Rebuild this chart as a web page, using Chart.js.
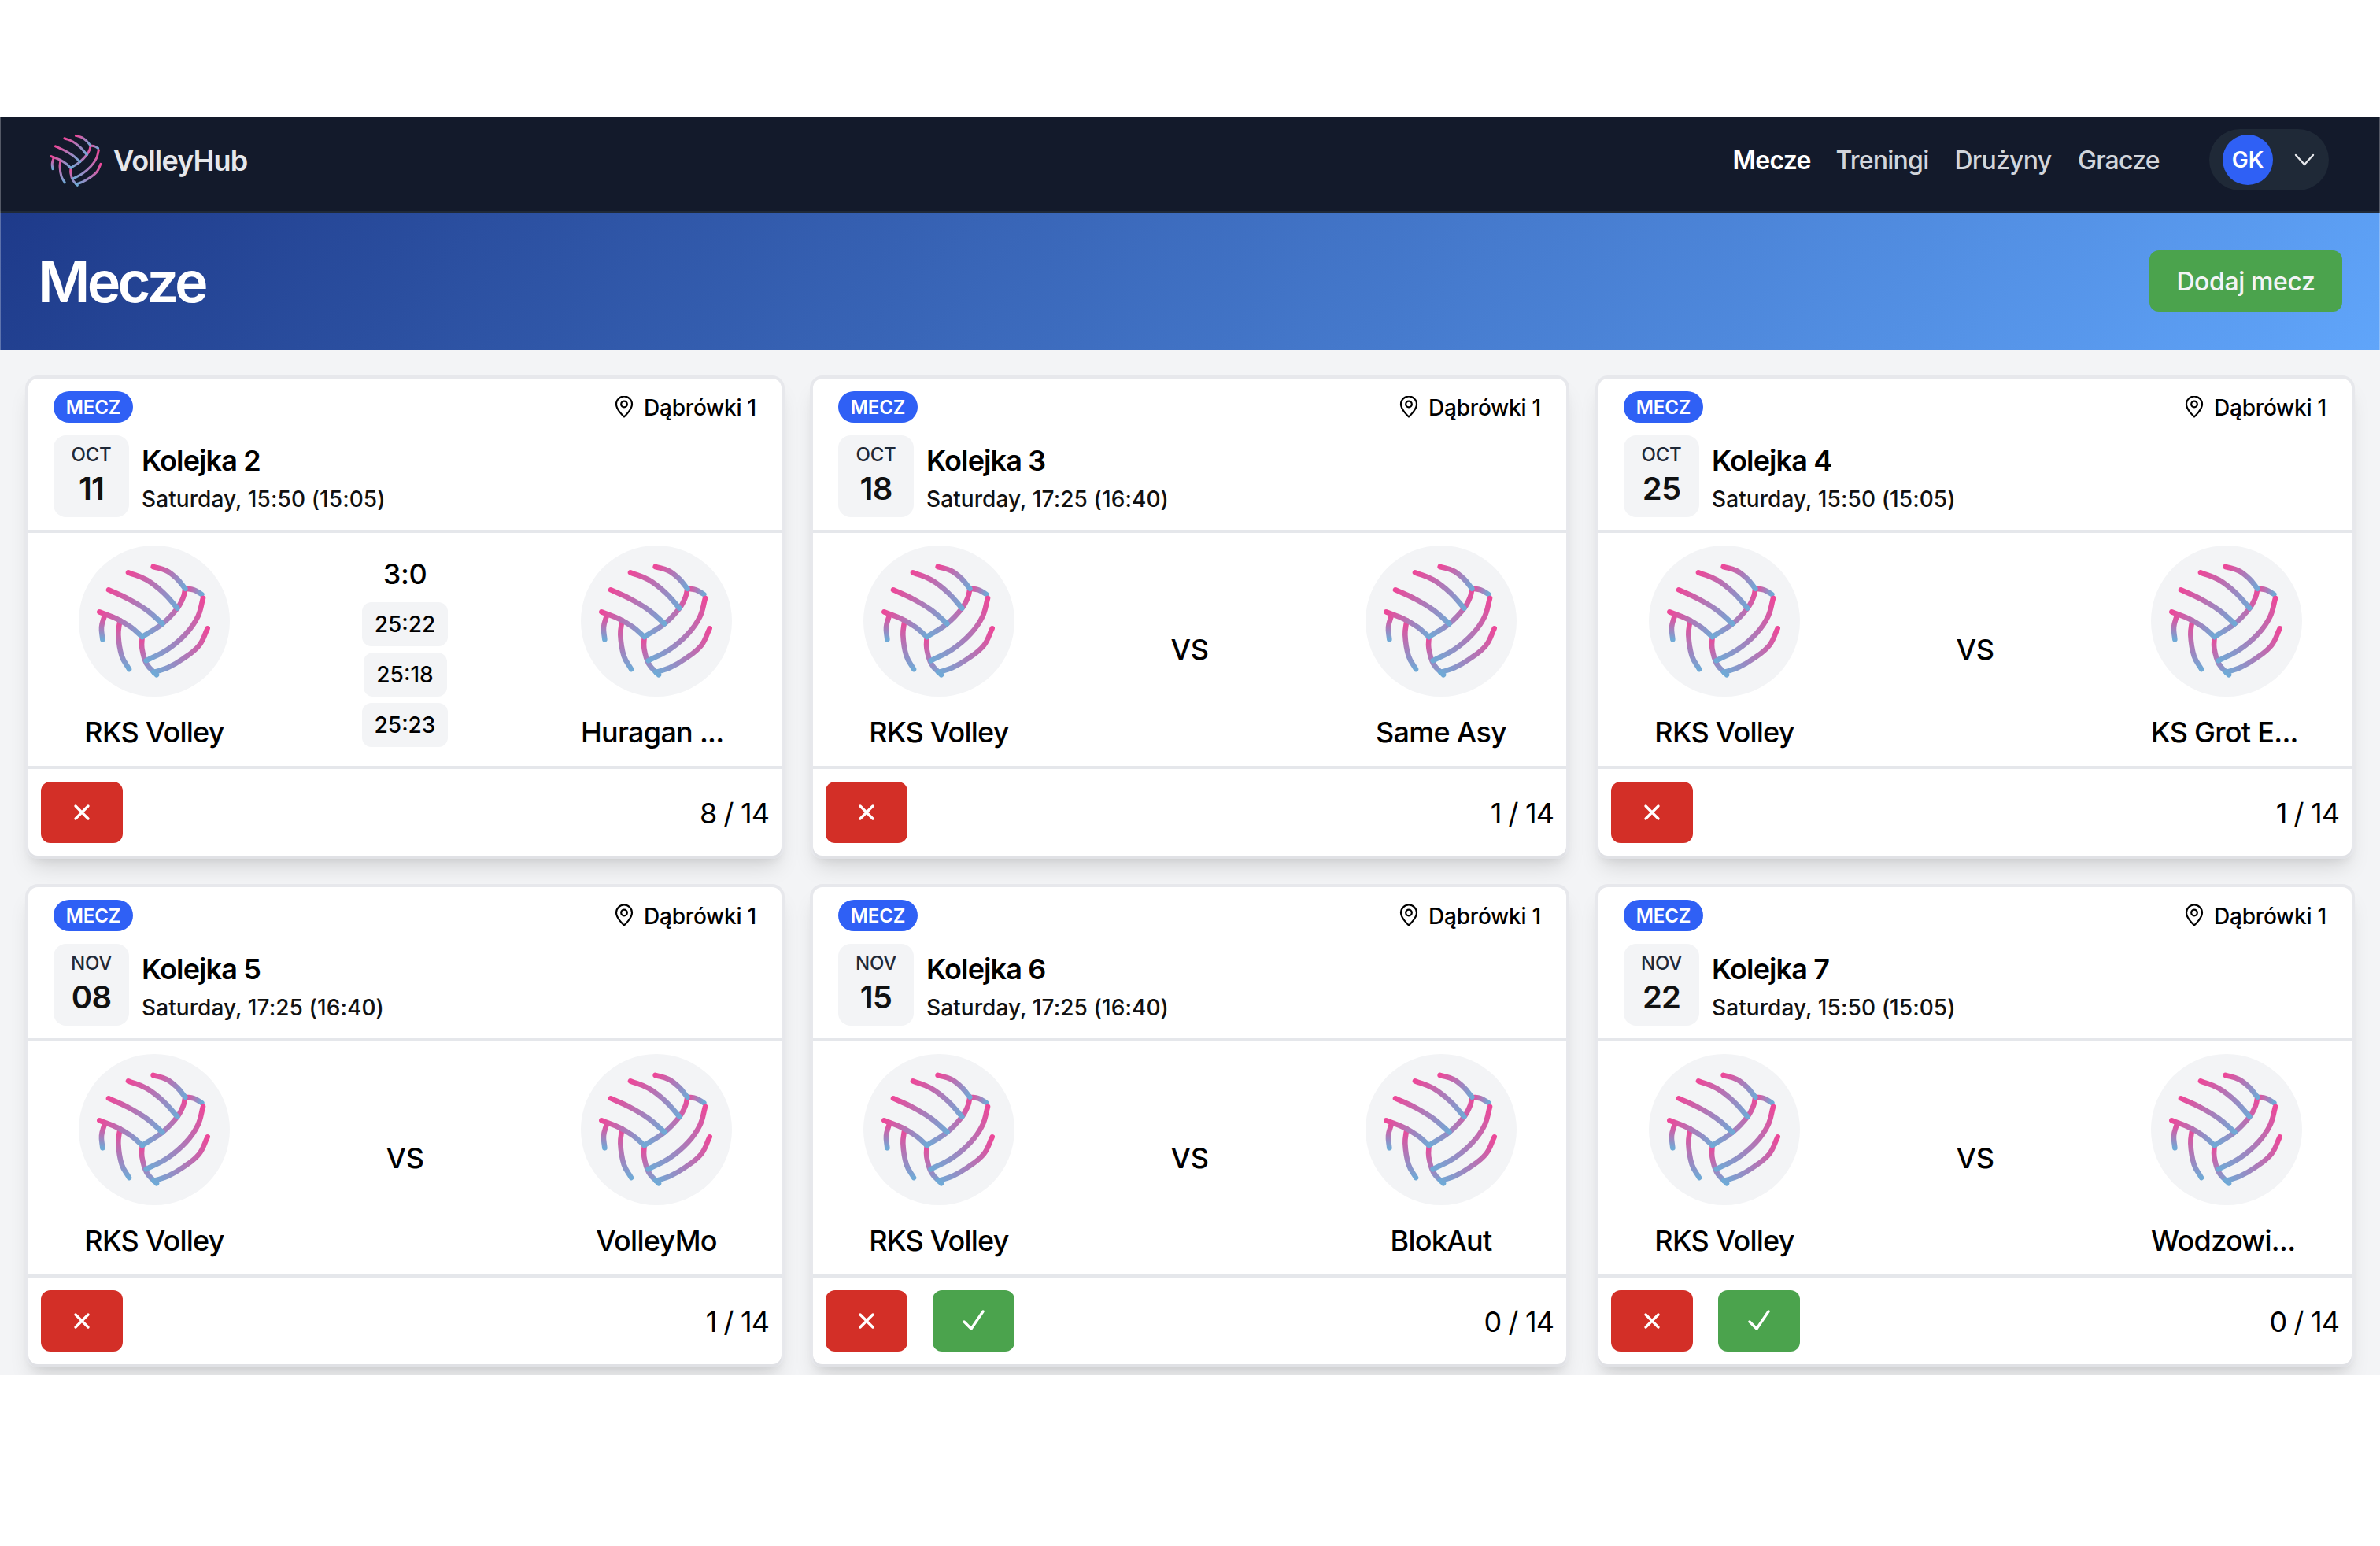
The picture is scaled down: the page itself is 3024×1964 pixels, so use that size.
<!DOCTYPE html>
<html lang="pl">
<head>
<meta charset="utf-8">
<title>VolleyHub – Mecze</title>
<script src="https://cdn.jsdelivr.net/npm/chart.js@4"></script>
<style>
html,body{margin:0;padding:0;width:3024px;height:1964px;background:#fff;overflow:hidden;font-family:Inter,"Noto Sans",sans-serif;color:#000;-webkit-font-smoothing:antialiased}
#app{position:absolute;left:0;top:148px;width:3024px;height:1599px;background:#f3f4f6;overflow:hidden}
.t{position:absolute;white-space:nowrap;line-height:1}
#nav{position:absolute;left:0;top:0;width:3024px;height:120px;background:#131a2b;border-bottom:2px solid #1f2937}
#hero{position:absolute;left:0;top:122px;width:3024px;height:175px;background:linear-gradient(135deg,#1e3a8a,#60a5fa)}
.edge{position:absolute;top:0;width:1px;height:297px;background:rgba(255,255,255,.28)}
.card{position:absolute;width:957px;height:606px;background:#fff;border-radius:12px;box-shadow:0 4px 0 0 #e0e1e5,0 0 0 4px #e7e8ec,0 18px 28px -4px rgba(0,0,0,.13),0 8px 12px -2px rgba(0,0,0,.07)}
.rule{position:absolute;left:0;width:957px;height:4px;background:#e5e7eb}
.box{position:absolute}
canvas{position:absolute;display:block}
svg{position:absolute;display:block}
</style>
</head>
<body>
<div id="app">
  <div id="nav"></div>
  <div id="hero"></div>
  <div class="edge" style="left:0"></div>
  <div class="edge" style="right:0"></div>
</div>
<script>
// Fixtures
const rounds = ["Kolejka 2","Kolejka 3","Kolejka 4","Kolejka 5","Kolejka 6","Kolejka 7"];
const months = ["OCT","OCT","OCT","NOV","NOV","NOV"];
const days = ["11","18","25","08","15","22"];
const times = ["Saturday, 15:50 (15:05)","Saturday, 17:25 (16:40)","Saturday, 15:50 (15:05)","Saturday, 17:25 (16:40)","Saturday, 17:25 (16:40)","Saturday, 15:50 (15:05)"];
const homeTeams = ["RKS Volley","RKS Volley","RKS Volley","RKS Volley","RKS Volley","RKS Volley"];
const awayTeams = ["Huragan ...","Same Asy","KS Grot E...","VolleyMo","BlokAut","Wodzowi..."];
const signedUp = ["8 / 14","1 / 14","1 / 14","1 / 14","0 / 14","0 / 14"];
const confirmable = [false,false,false,false,true,true];
const matchResult = "3:0";
const matchSets = ["25:22","25:18","25:23"];
const venue = "Dąbrówki 1";
const navLinks = ["Mecze","Treningi","Drużyny","Gracze"];

// Ball logo strokes, drawn as Chart.js line series
const strokeA = [[345,120],[395,135],[435,165],[467,203]];
const strokeB = [[250,142],[320,170],[385,220],[437,278]];
const strokeC = [[175,208],[245,240],[320,285],[380,337]];
const strokeD = [[140,292],[210,320],[260,350],[303,387]];
const strokeE = [[467,203],[460,235],[437,278],[380,337],[303,387]];
const strokeF = [[467,203],[500,208],[530,225]];
const strokeG = [[535,240],[515,310],[470,375],[400,435],[318,478]];
const strokeH = [[552,355],[520,420],[460,470],[400,505],[347,522]];
const strokeI = [[303,387],[302,430],[320,490],[358,532]];
const strokeJ = [[218,325],[212,380],[225,460],[253,510]];
const strokeK = [[160,305],[148,350],[152,397]];

const topFirst = [strokeA,strokeB,strokeC,strokeD,strokeG,strokeH,strokeJ,strokeK,strokeF,strokeE,strokeI];

const app = document.getElementById('app');
const Y0 = 148;

function el(parent,css,cls){const d=document.createElement('div');if(cls)d.className=cls;d.style.cssText=css;parent.appendChild(d);return d;}
function txt(parent,s,x,cy,size,weight,color,align,ls){
  const d=document.createElement('div');d.className='t';d.textContent=s;
  const tx=align==='center'?'-50%':align==='right'?'-100%':'0';
  d.style.cssText=`left:${x}px;top:${cy}px;font-size:${size}px;font-weight:${weight};color:${color};letter-spacing:${ls||0}em;transform:translate(${tx},-50%)`;
  parent.appendChild(d);return d;
}
function svg(parent,x,y,w,h,vb,inner){
  const ns='http://www.w3.org/2000/svg';const s=document.createElementNS(ns,'svg');
  s.setAttribute('viewBox',vb);s.setAttribute('width',w);s.setAttribute('height',h);
  s.style.left=x+'px';s.style.top=y+'px';s.innerHTML=inner;parent.appendChild(s);return s;
}
function ball(parent,x,y,size,lw){
  const c=document.createElement('canvas');c.width=size;c.height=size;
  c.style.left=x+'px';c.style.top=y+'px';c.style.width=size+'px';c.style.height=size+'px';
  parent.appendChild(c);
  new Chart(c,{type:'scatter',
    data:{datasets:topFirst.map(s=>({
      data:s.map(p=>({x:p[0],y:p[1]})),
      showLine:true,tension:0.4,pointRadius:0,borderWidth:lw,
      borderCapStyle:'round',borderJoinStyle:'round',clip:false,
      borderColor(ctx){
        const ch=ctx.chart;const sx=ch.scales.x,sy=ch.scales.y;
        if(!sx||!sy||!ch.chartArea)return '#ec4899';
        const d=ctx.dataset.data,a=d[0],b=d[d.length-1];
        const g=ch.ctx.createLinearGradient(sx.getPixelForValue(a.x),sy.getPixelForValue(a.y),sx.getPixelForValue(b.x),sy.getPixelForValue(b.y));
        g.addColorStop(0,'#ec4899');g.addColorStop(1,'#70a9d6');return g;
      }
    }))},
    options:{responsive:false,animation:false,events:[],
      layout:{padding:0},
      plugins:{legend:{display:false},tooltip:{enabled:false},title:{display:false}},
      scales:{x:{type:'linear',display:false,min:61,max:637},y:{type:'linear',display:false,reverse:true,min:39,max:615}}}
  });
}

// Navigation
const nav=document.getElementById('nav');
ball(nav,53,160-Y0,88,3);
txt(nav,"VolleyHub",144,204-Y0,36,600,'#e5e7eb','left',-0.024);
const navX=[2201.5,2332.5,2483.5,2640];
navLinks.forEach((s,i)=>txt(nav,s,navX[i],204-Y0,32,i===0?600:500,i===0?'#fff':'#d1d5db','left',-0.024));
el(nav,`left:2807px;top:${164-Y0}px;width:152px;height:78px;border-radius:39px;background:#1f2937`,'box');
el(nav,`left:2824px;top:${171-Y0}px;width:64px;height:64px;border-radius:50%;background:#2f60f5`,'box');
txt(nav,"GK",2856,203-Y0,28,600,'#fff','center');
svg(nav,2914,191-Y0,28,24,'0 0 28 24','<path d="M3 6 L14 18 L25 6" fill="none" stroke="#e5e7eb" stroke-width="2.4" stroke-linecap="round" stroke-linejoin="round"/>');

// Hero
const hero=document.getElementById('hero');
txt(hero,"Mecze",48,358-270,72,600,'#fff','left',-0.052);
el(hero,`left:2731px;top:${318-270}px;width:245px;height:78px;border-radius:12px;background:#4ba34d`,'box');
txt(hero,"Dodaj mecz",2853.5,358-270,32,500,'#f3f4f6','center',-0.012);

// Cards
const colX=[36,1033,2031], rowY=[481,1127];
rounds.forEach((r,i)=>{
  const X=colX[i%3],Yabs=rowY[Math.floor(i/3)];
  const c=el(app,`left:${X}px;top:${Yabs-Y0}px`,'card');
  const rel=y=>y-481;
  el(c,`top:${rel(673)}px`,'rule');
  el(c,`top:${rel(973)}px`,'rule');
  // badge and venue
  el(c,`left:32px;top:${rel(497)}px;width:101px;height:40px;border-radius:20px;background:#2f60f5`,'box');
  txt(c,"MECZ",82.5,rel(518),24,600,'#fff','center',-0.005);
  svg(c,743,rel(503),28,28,'0 0 28 28','<path d="M14 26.5s10-9 10-16a10 10 0 1 0-20 0c0 7 10 16 10 16z" fill="none" stroke="#000" stroke-width="2.2" stroke-linejoin="round"/><circle cx="14" cy="10.5" r="3.8" fill="none" stroke="#000" stroke-width="2.2"/>');
  txt(c,venue,925,rel(518),28,500,'#000','right',-0.008);
  // date
  el(c,`left:32px;top:${rel(553)}px;width:96px;height:104px;border-radius:16px;background:#f3f4f6`,'box');
  txt(c,months[i],80,rel(578),24,500,'#1f2937','center',-0.01);
  txt(c,days[i],80,rel(621),40,600,'#111','center',-0.02);
  txt(c,r,144,rel(585),36,600,'#000','left',-0.024);
  txt(c,times[i],144,rel(634),28,500,'#111','left',0.003);
  // teams
  el(c,`left:64px;top:${rel(693)}px;width:192px;height:192px;border-radius:50%;background:#f3f4f6`,'box');
  el(c,`left:702px;top:${rel(693)}px;width:192px;height:192px;border-radius:50%;background:#f3f4f6`,'box');
  ball(c,64,rel(693),192,6.6);
  ball(c,702,rel(693),192,6.6);
  txt(c,homeTeams[i],160,rel(930),36,500,'#000','center',-0.022);
  const a=awayTeams[i];
  if(a.endsWith('...')) txt(c,a,702,rel(930),36,500,'#000','left',-0.02);
  else txt(c,a,798,rel(930),36,500,'#000','center',-0.02);
  // centre
  if(i===0){
    txt(c,matchResult,478.5,rel(729),36,500,'#000','center',-0.01);
    const sy=[765,829,893];
    matchSets.forEach((s,k)=>{
      const w=k===1?106:109;
      el(c,`left:${478.5-w/2}px;top:${rel(sy[k])}px;width:${w}px;height:56px;border-radius:12px;background:#f3f4f6`,'box');
      txt(c,s,478.5,rel(sy[k]+28),28,500,'#000','center');
    });
  } else {
    txt(c,"VS",478.5,rel(825),36,500,'#000','center',-0.01);
  }
  // footer
  el(c,`left:16px;top:${rel(993)}px;width:104px;height:78px;border-radius:12px;background:#d32f27`,'box');
  svg(c,57,rel(1021),22,22,'0 0 22 22','<path d="M3 3 L19 19 M19 3 L3 19" stroke="#fff" stroke-width="3.4" stroke-linecap="round"/>');
  if(confirmable[i]){
    el(c,`left:152px;top:${rel(993)}px;width:104px;height:78px;border-radius:12px;background:#4ba34d`,'box');
    svg(c,190,rel(1016),28,32,'0 0 28 32','<path d="M2 17 L11 26 L26 4" fill="none" stroke="#fff" stroke-width="3.4" stroke-linecap="round" stroke-linejoin="round"/>');
  }
  txt(c,signedUp[i],941,rel(1033),36,400,'#000','right',-0.025);
});
</script>
</body>
</html>
